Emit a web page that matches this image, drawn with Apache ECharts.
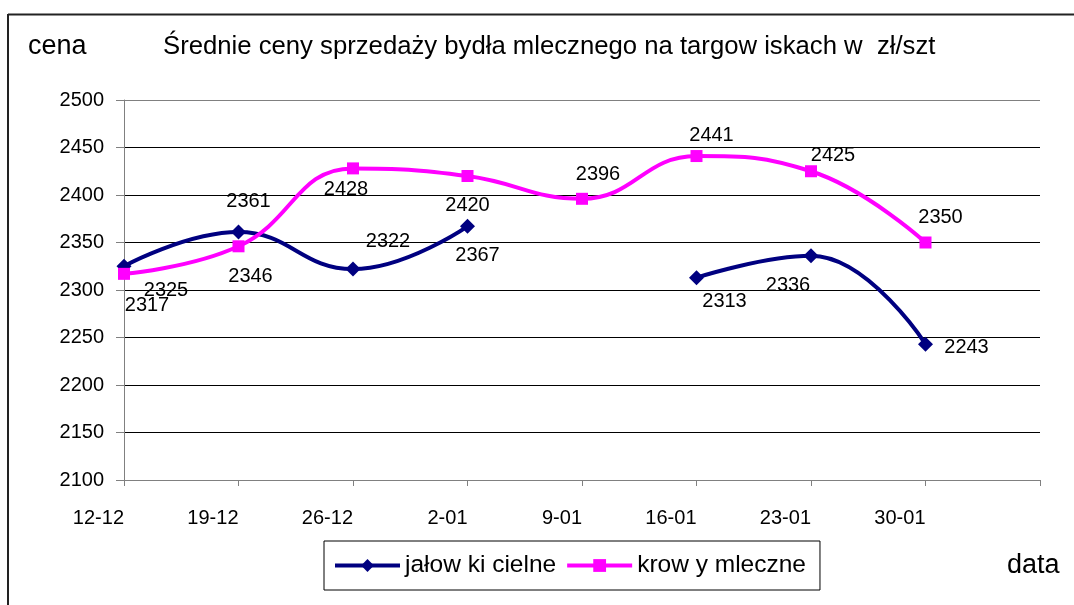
<!DOCTYPE html>
<html><head><meta charset="utf-8">
<script src="https://cdn.jsdelivr.net/npm/echarts/dist/echarts.min.js"></script>
<style>html,body{margin:0;padding:0;background:#fff}#c{width:1074px;height:605px}</style>
</head><body><div id="c"></div>
<script>
// ---- data ----
const categories = ['12-12','19-12','26-12','2-01','9-01','16-01','23-01','30-01',''];
const seriesNames = ['jałow ki cielne','krow y mleczne'];
const jalowki = [2325, 2361, 2322, 2367, null, 2313, 2336, 2243];
const krowy   = [2317, 2346, 2428, 2420, 2396, 2441, 2425, 2350];
const yMin = 2100, yMax = 2500, yStep = 50;
const titleText = 'Średnie ceny sprzedaży bydła mlecznego na targow iskach w  zł/szt';
const yName = 'cena', xName = 'data';

// ---- label placement (pixel offsets from each point) ----
const labelOffsets = [
  [[42,24],[10,-31],[35,-28],[10,29],[0,0],[28,24],[-23,30],[41,3]],
  [[23,32],[12,30],[-7,21],[0,29],[16,-24],[15,-21],[22,-16],[15,-25]]
];

const FONT = '"Liberation Sans", Arial, sans-serif';
const gridColors = ['#000','#000','#000','#000','#000','#000','#000','#000','#808080'];
function toData(values){ return values.map(v => v == null ? '-' : v); }
function layoutFn(params){
  const o = labelOffsets[params.seriesIndex][params.dataIndex] || [0,0];
  return {dx:o[0], dy:o[1], hideOverlap:false};
}

const chart = echarts.init(document.getElementById('c'), null, {renderer:'canvas'});
chart.setOption({
  backgroundColor:'#fff',
  animation:false,
  grid:{left:124, right:34, top:100, bottom:125, containLabel:false},
  xAxis:{
    type:'category', data:categories, boundaryGap:false,
    axisLine:{show:true, lineStyle:{color:'#808080', width:1}},
    axisTick:{show:true, interval:0, length:6, lineStyle:{color:'#808080'}},
    axisLabel:{interval:0, align:'right', margin:28, color:'#000', fontSize:20, fontFamily:FONT},
    splitLine:{show:false}
  },
  yAxis:{
    type:'value', min:yMin, max:yMax, interval:yStep,
    axisLine:{show:true, lineStyle:{color:'#808080', width:1}},
    axisTick:{show:true, length:8, lineStyle:{color:'#808080'}},
    axisLabel:{color:'#000', fontSize:20, fontFamily:FONT, margin:20, formatter:v => String(v)},
    splitLine:{show:true, lineStyle:{color:gridColors, width:1}}
  },
  legend:{
    left:324, top:541, orient:'horizontal',
    padding:[12,14,12,9], itemGap:9, itemWidth:65, itemHeight:16,
    borderColor:'#000', borderWidth:1, backgroundColor:'#fff',
    lineStyle:{width:4},
    textStyle:{color:'#000', fontSize:24.5, fontFamily:FONT},
    data:seriesNames
  },
  series:[
    {
      name:seriesNames[0], type:'line', data:toData(jalowki),
      smooth:0.45, connectNulls:false,
      symbol:'diamond', symbolSize:15,
      lineStyle:{color:'#000080', width:4},
      itemStyle:{color:'#000080'},
      label:{show:true, position:'inside', color:'#000', fontSize:20, fontFamily:FONT},
      labelLayout:layoutFn
    },
    {
      name:seriesNames[1], type:'line', data:toData(krowy),
      smooth:0.45,
      symbol:'rect', symbolSize:12,
      lineStyle:{color:'#FF00FF', width:4},
      itemStyle:{color:'#FF00FF'},
      label:{show:true, position:'inside', color:'#000', fontSize:20, fontFamily:FONT},
      labelLayout:layoutFn
    }
  ],
  graphic:[
    {type:'line', shape:{x1:8, y1:14.5, x2:1074, y2:14.5}, style:{stroke:'#222', lineWidth:2}},
    {type:'line', shape:{x1:8, y1:14, x2:8, y2:605}, style:{stroke:'#222', lineWidth:2}},
    {type:'text', x:28, y:47, style:{text:yName, fontSize:27, fontFamily:FONT, fill:'#000', verticalAlign:'middle'}},
    {type:'text', x:163, y:47, style:{text:titleText, fontSize:25.7, fontFamily:FONT, fill:'#000', verticalAlign:'middle'}},
    {type:'text', x:1007, y:566, style:{text:xName, fontSize:27, fontFamily:FONT, fill:'#000', verticalAlign:'middle'}}
  ]
});
</script></body></html>
